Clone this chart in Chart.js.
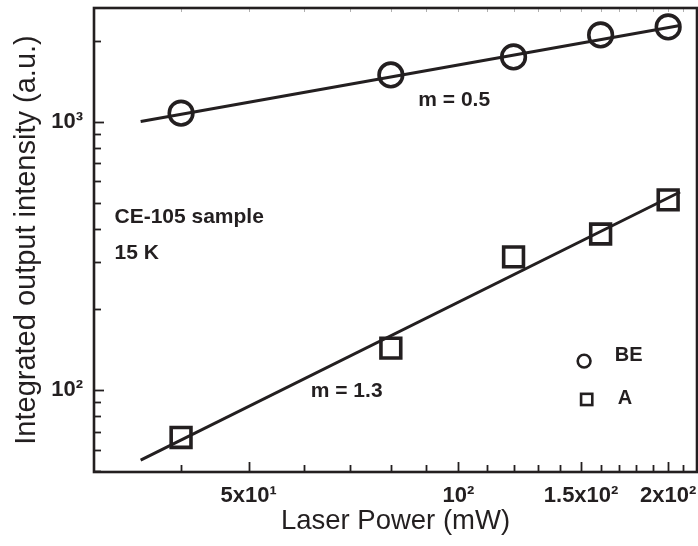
<!DOCTYPE html>
<html>
<head>
    <meta charset="utf-8">
    <title>Integrated output intensity vs laser power</title>
    <script src="https://cdn.jsdelivr.net/npm/chart.js@4.4.0/dist/chart.umd.min.js"></script>
    <style>
        html, body { margin: 0; padding: 0; background: #fff; }
    </style>
</head>
<body>
    <canvas id="myChart" width="698" height="546"></canvas>
    <script>
        const laserPower = [40, 80, 120, 160, 200];
        const beIntensity = [1078, 1497, 1748, 2111, 2262];
        const aIntensity = [66.6, 143.4, 314, 382, 512];

        // fitted power-law lines, end points
        const fitPower = [35, 208];
        const beFit = [1003, 2287];
        const aFit = [54.8, 548];

        // tick positions and labels
        const xTicks = [40, 50, 60, 70, 80, 90, 100, 110, 120, 130, 140, 150, 160, 170, 180, 190, 200, 210];
        const xTickLabels = { 50: '5x10¹', 100: '10²', 150: '1.5x10²', 200: '2x10²' };
        const yTicks = [50, 60, 70, 80, 90, 100, 200, 300, 400, 500, 600, 700, 800, 900, 1000, 2000];
        const yTickLabels = { 100: '10²', 1000: '10³' };

        const INK = '#231f20';
        const FONT = "'Liberation Sans', Arial, sans-serif";

        // inward ticks, frame, notes and legend
        const framePlugin = {
            id: 'frame',
            afterDraw(chart) {
                const ctx = chart.ctx;
                const a = chart.chartArea;
                const xs = chart.scales.x, ys = chart.scales.y;
                ctx.save();
                ctx.strokeStyle = INK;
                ctx.lineCap = 'butt';

                // ticks
                ctx.lineWidth = 1.8;
                xs.ticks.forEach(t => {
                    const px = Math.round(xs.getPixelForValue(t.value)) + 0.5;
                    const len = xTickLabels[t.value] ? 10 : 7;
                    ctx.beginPath();
                    ctx.moveTo(px, a.bottom);
                    ctx.lineTo(px, a.bottom - len);
                    ctx.stroke();
                });
                ys.ticks.forEach(t => {
                    const py = Math.round(ys.getPixelForValue(t.value)) + 0.5;
                    const len = yTickLabels[t.value] ? 10 : 7;
                    ctx.beginPath();
                    ctx.moveTo(a.left, py);
                    ctx.lineTo(a.left + len, py);
                    ctx.stroke();
                });
                // faint mirror ticks on top
                ctx.strokeStyle = '#b0b0b0';
                ctx.lineWidth = 1;
                xs.ticks.forEach(t => {
                    const px = Math.round(xs.getPixelForValue(t.value)) + 0.5;
                    ctx.beginPath();
                    ctx.moveTo(px, a.top);
                    ctx.lineTo(px, a.top + 4);
                    ctx.stroke();
                });

                // frame
                ctx.strokeStyle = INK;
                ctx.lineWidth = 2.6;
                ctx.strokeRect(a.left, a.top, a.right - a.left, a.bottom - a.top);

                // notes
                ctx.fillStyle = INK;
                ctx.font = 'bold 21px ' + FONT;
                ctx.textBaseline = 'middle';
                ctx.textAlign = 'left';
                const note = (txt, x, y) => ctx.fillText(txt, xs.getPixelForValue(x), ys.getPixelForValue(y));
                note('m = 0.5', 87.6, 1208);
                note('m = 1.3', 61.4, 99.1);
                note('CE-105 sample', 32.1, 442);
                note('15 K', 32.1, 324);

                // legend
                ctx.lineWidth = 2.6;
                const cx = xs.getPixelForValue(151.5), cy = ys.getPixelForValue(128.3);
                ctx.beginPath();
                ctx.arc(cx, cy, 6.4, 0, Math.PI * 2);
                ctx.stroke();
                const sx = xs.getPixelForValue(152.8), sy = ys.getPixelForValue(92.3);
                ctx.strokeRect(sx - 5.6, sy - 5.6, 11.2, 11.2);
                ctx.font = 'bold 20px ' + FONT;
                note('BE', 167.7, 135.1);
                note('A', 169.3, 93.4);
                ctx.restore();
            }
        };

        const pts = (xv, yv) => xv.map((x, i) => ({ x: x, y: yv[i] }));

        // keep the plot box where the reference has it
        const noPad = s => { s.paddingLeft = 0; s.paddingRight = 0; s.paddingTop = 0; s.paddingBottom = 0; };

        const config = {
            type: 'scatter',
            data: {
                datasets: [
                    {
                        label: 'BE fit',
                        data: pts(fitPower, beFit),
                        showLine: true,
                        pointRadius: 0,
                        borderColor: INK,
                        borderWidth: 3
                    },
                    {
                        label: 'A fit',
                        data: pts(fitPower, aFit),
                        showLine: true,
                        pointRadius: 0,
                        borderColor: INK,
                        borderWidth: 3
                    },
                    {
                        label: 'BE',
                        data: pts(laserPower, beIntensity),
                        pointStyle: 'circle',
                        pointRadius: 11.8,
                        borderWidth: 3.6,
                        borderColor: INK,
                        backgroundColor: 'rgba(0,0,0,0)'
                    },
                    {
                        label: 'A',
                        data: pts(laserPower, aIntensity),
                        pointStyle: 'rect',
                        pointRadius: 14,
                        borderWidth: 3.6,
                        borderColor: INK,
                        backgroundColor: 'rgba(0,0,0,0)'
                    }
                ]
            },
            options: {
                responsive: false,
                animation: false,
                devicePixelRatio: 1,
                layout: { autoPadding: false, padding: { top: 8, right: 1, left: 0, bottom: 0 } },
                plugins: {
                    legend: { display: false },
                    tooltip: { enabled: false }
                },
                scales: {
                    x: {
                        type: 'logarithmic',
                        min: 30,
                        max: 220,
                        grid: { display: false },
                        border: { display: false },
                        afterBuildTicks: s => { s.ticks = xTicks.map(v => ({ value: v })); },
                        afterFit: s => { s.height = 74; noPad(s); },
                        ticks: {
                            autoSkip: false,
                            maxRotation: 0,
                            padding: 3,
                            color: INK,
                            font: { family: FONT, size: 22, weight: 'bold' },
                            callback: v => xTickLabels[v] || ''
                        },
                        title: {
                            display: true,
                            text: 'Laser Power (mW)',
                            color: INK,
                            font: { family: FONT, size: 27.5 },
                            padding: { top: 0, bottom: 8 }
                        }
                    },
                    y: {
                        type: 'logarithmic',
                        min: 49.5,
                        max: 2660,
                        grid: { display: false },
                        border: { display: false },
                        afterBuildTicks: s => { s.ticks = yTicks.map(v => ({ value: v })); },
                        afterFit: s => { s.width = 94; noPad(s); },
                        ticks: {
                            autoSkip: false,
                            padding: 3,
                            color: INK,
                            font: { family: FONT, size: 22, weight: 'bold' },
                            callback: v => yTickLabels[v] || ''
                        },
                        title: {
                            display: true,
                            text: 'Integrated output intensity (a.u.)',
                            color: INK,
                            font: { family: FONT, size: 29 },
                            padding: { top: 10, bottom: 0 }
                        }
                    }
                }
            },
            plugins: [framePlugin]
        };

        const myChart = new Chart(document.getElementById('myChart'), config);
    </script>
</body>
</html>
